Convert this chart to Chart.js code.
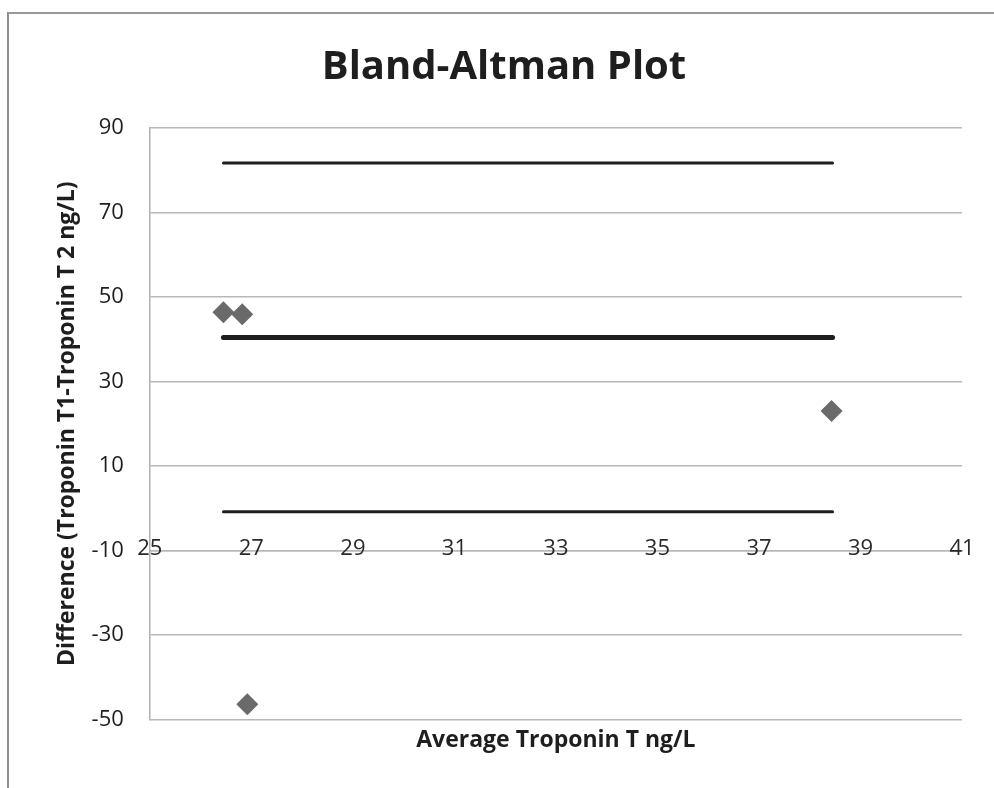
<!DOCTYPE html>
<html>
<head>
<meta charset="utf-8">
<script src="https://cdn.jsdelivr.net/npm/chart.js@4.4.1/dist/chart.umd.min.js"></script>
<style>
  html, body { margin: 0; padding: 0; background: #fff; }
  #wrap { position: relative; width: 994px; height: 788px; overflow: hidden; }
  #frame { position: absolute; left: 7px; top: 12px; width: 1100px; height: 900px;
           border-left: 2px solid #8c8c8c; border-top: 2px solid #9a9a9a; box-sizing: border-box; }
  canvas { position: absolute; left: 0; top: 0; }
</style>
</head>
<body>
<div id="wrap">
  <div id="frame"></div>
  <canvas id="c" width="994" height="788"></canvas>
</div>
<script>
// Data
const averages    = [26.45, 26.82, 38.43, 26.92];   // Average Troponin T ng/L
const differences = [46.4, 45.9, 23.0, -46.4];      // Troponin T1 - Troponin T2
const meanDiff    = 40.4;
const upperLoA    = 81.7;
const lowerLoA    = -0.85;
const lineStartX  = 26.45;
const lineEndX    = 38.45;
const xTicks = [25, 27, 29, 31, 33, 35, 37, 39, 41];
const yTicks = [-50, -30, -10, 10, 30, 50, 70, 90];

const FONT = "'Open Sans', Lato, sans-serif";
const points = averages.map((x, i) => ({ x: x, y: differences[i] }));
const hline = v => [{ x: lineStartX, y: v }, { x: lineEndX, y: v }];

new Chart(document.getElementById('c'), {
  type: 'scatter',
  data: {
    datasets: [
      { label: 'Upper', data: hline(upperLoA), showLine: true, borderColor: '#1e1e1e', borderWidth: 3,
        pointRadius: 0, borderCapStyle: 'round', order: 2 },
      { label: 'Mean', data: hline(meanDiff), showLine: true, borderColor: '#1e1e1e', borderWidth: 5,
        pointRadius: 0, borderCapStyle: 'round', order: 2 },
      { label: 'Lower', data: hline(lowerLoA), showLine: true, borderColor: '#1e1e1e', borderWidth: 3,
        pointRadius: 0, borderCapStyle: 'round', order: 2 },
      { label: 'Differences', data: points, pointStyle: 'rectRot', pointRadius: 11,
        backgroundColor: '#6a6a6a', borderColor: '#6a6a6a', borderWidth: 0, order: 1 }
    ]
  },
  options: {
    responsive: false,
    animation: false,
    layout: { padding: { left: 46, right: 32, top: 0, bottom: 34 } },
    plugins: {
      legend: { display: false },
      tooltip: { enabled: false },
      title: {
        display: true,
        text: 'Bland-Altman Plot',
        color: '#1e1e1e',
        font: { family: FONT, size: 40, weight: 'bold' },
        padding: { top: 44, bottom: 36 }
      }
    },
    scales: {
      x: {
        type: 'linear', position: 'bottom', min: 25, max: 41,
        grid: { display: false, drawTicks: false },
        border: { display: false },
        ticks: { display: false, stepSize: 2 },
        title: { display: true, text: 'Average Troponin T ng/L', color: '#1e1e1e',
                 font: { family: FONT, size: 23, weight: 'bold' }, padding: { top: 7, bottom: 0 } }
      },
      x2: {
        type: 'linear', axis: 'x', position: { y: -10 }, min: 25, max: 41,
        afterBuildTicks: s => { s.ticks = xTicks.map(v => ({ value: v })); },
        grid: { display: false, drawTicks: false },
        border: { display: true, color: '#b8b8b8', width: 1.5 },
        ticks: { color: '#2a2a2a', font: { family: FONT, size: 22 }, padding: -15, maxRotation: 0 }
      },
      y: {
        type: 'linear', min: -50, max: 90,
        afterBuildTicks: s => { s.ticks = yTicks.map(v => ({ value: v })); },
        grid: { color: '#b8b8b8', lineWidth: 1.5, drawTicks: false },
        border: { display: true, color: '#b0b0b0', width: 1.5 },
        ticks: { color: '#1e1e1e', font: { family: FONT, size: 22 }, padding: 26 },
        title: { display: true, text: 'Difference (Troponin T1-Troponin T 2 ng/L)', color: '#1e1e1e',
                 font: { family: FONT, size: 23, weight: 'bold' }, padding: { top: 8, bottom: -16 } }
      }
    }
  }
});
</script>
</body>
</html>
